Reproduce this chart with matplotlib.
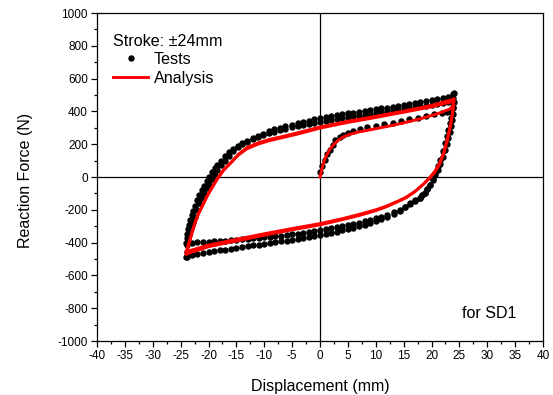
import matplotlib

matplotlib.use("Agg")
import matplotlib.pyplot as plt
from matplotlib.ticker import MultipleLocator
from matplotlib.lines import Line2D

plt.rcParams["font.family"] = ["Liberation Sans", "DejaVu Sans"]
plt.rcParams["axes.unicode_minus"] = False

# test data: initial loading curve
test_init_x = [0.0, 0.4, 0.9, 1.3, 1.8, 2.3, 2.7, 3.5, 4.2, 5.0, 6.0, 7.2, 8.5, 10.0,
               11.5, 13.0, 14.5, 16.0, 17.5, 19.0, 20.5, 21.8, 22.8, 23.5, 23.8]
test_init_y = [30, 70, 105, 140, 165, 195, 225, 245, 258, 268, 280, 293, 303, 313,
               322, 332, 342, 352, 362, 372, 382, 392, 398, 410, 428]

# test data: loading branches (-24 -> +24)
test_up_x = [-24.0, -23.9, -23.8, -23.7, -23.5, -23.3, -23.0, -22.8, -22.5, -22.1, -21.7,
             -21.2, -20.8, -20.3, -19.9, -19.4, -18.9, -18.5, -17.8, -17.0, -16.3, -15.6,
             -14.8, -14.0, -13.1, -12.1, -11.2, -10.2, -9.2, -8.2, -7.2, -6.2, -5.1, -4.0,
             -3.0, -2.0, -1.0, 0.0, 1.0, 2.0, 3.0, 4.0, 5.0, 6.0, 7.0, 8.0, 9.0, 10.0, 11.0,
             12.0, 13.0, 14.0, 15.0, 16.0, 17.0, 18.0, 19.0, 20.0, 21.0, 22.0, 23.0, 23.8]
test_up1_y = [-400, -372, -345, -318, -290, -262, -232, -205, -178, -140, -108,
              -80, -52, -25, 2, 28, 52, 74, 100, 128, 150, 170,
              188, 205, 220, 235, 247, 258, 268, 277, 285, 293, 302, 310,
              316, 323, 330, 336, 342, 348, 354, 360, 365, 370, 375, 380, 386, 391, 396,
              401, 406, 411, 416, 421, 426, 431, 436, 441, 446, 450, 455, 458]
test_up2_y = [-485, -460, -415, -370, -345, -320, -295, -275, -245, -200, -160,
              -125, -95, -65, -40, -15, 15, 40, 72, 100, 130, 160,
              185, 200, 215, 232, 250, 265, 278, 290, 300, 310, 320, 330,
              337, 344, 351, 358, 364, 370, 376, 382, 388, 393, 398, 403, 408, 413, 418,
              423, 428, 433, 438, 444, 450, 456, 462, 468, 474, 481, 490, 508]

# test data: unloading branches (+24 -> -24)
test_down_x = [24.0, 23.9, 23.8, 23.7, 23.5, 23.3, 23.0, 22.7, 22.4, 22.0, 21.5, 21.1,
               20.6, 20.2, 19.7, 19.2, 18.8, 18.3, 17.9, 17.0, 16.1, 15.2, 14.3, 13.2,
               12.0, 11.0, 10.0, 9.0, 8.0, 7.0, 6.0, 5.0, 4.0, 3.0, 2.0, 1.0, 0.0,
               -1.0, -2.0, -3.0, -4.0, -5.0, -6.0, -7.0, -8.0, -9.0, -10.0, -11.0, -12.0,
               -13.0, -14.0, -15.0, -16.0, -17.0, -18.0, -19.0, -20.0, -21.0, -22.0, -23.0, -23.9]
test_down1_y = [455, 420, 385, 350, 310, 275, 240, 200, 165, 125, 80, 45,
                10, -20, -50, -75, -95, -112, -125, -145, -165, -185, -200, -215,
                -230, -242, -252, -262, -270, -278, -286, -293, -300, -306, -312, -318, -324,
                -330, -335, -340, -345, -349, -353, -357, -360, -364, -367, -370, -373,
                -376, -379, -382, -385, -388, -390, -392, -394, -396, -398, -400, -402]
test_down2_y = [510, 480, 450, 390, 360, 330, 287, 250, 207, 160, 104, 65,
                24, -10, -50, -75, -95, -110, -125, -143, -160, -182, -205, -225,
                -245, -258, -270, -280, -290, -300, -308, -316, -325, -333, -341, -348, -356,
                -362, -368, -373, -378, -383, -388, -393, -398, -403, -408, -412, -417,
                -422, -427, -432, -437, -442, -447, -452, -457, -462, -467, -474, -485]

# analysis curves
ana_init_x = [0.0, 0.3, 0.7, 1.2, 1.8, 2.5, 3.3, 4.2, 5.5, 7.0, 9.0, 12.0, 15.0, 18.0,
              21.0, 23.3, 24.0]
ana_init_y = [0, 45, 95, 135, 170, 200, 225, 245, 262, 275, 288, 308, 330, 355,
              385, 415, 440]

ana_up_x = [-24.0, -23.6, -23.1, -22.5, -21.8, -21.0, -20.3, -19.4, -18.5, -17.3, -16.1,
            -14.6, -13.1, -11.0, -9.0, -7.0, -4.0, 0.0, 5.0, 10.0, 15.0, 20.0, 24.0]
ana_up1_y = [-455, -410, -352, -285, -222, -168, -120, -66, -16, 40, 82,
             135, 172, 202, 222, 238, 262, 298, 333, 363, 395, 428, 462]
ana_up2_y = [-470, -420, -360, -290, -225, -170, -120, -65, -15, 45, 85,
             140, 180, 210, 230, 245, 270, 305, 340, 370, 402, 437, 475]

ana_down_x = [24.0, 23.8, 23.4, 22.9, 22.2, 21.4, 20.5, 19.5, 18.5, 17.0, 15.5, 14.3,
              12.0, 10.0, 7.0, 4.0, 0.0, -5.0, -10.0, -15.0, -20.0, -24.0]
ana_down1_y = [462, 390, 312, 232, 145, 75, 25, -12, -45, -88, -122, -142,
               -176, -200, -228, -254, -284, -314, -346, -380, -415, -455]
ana_down2_y = [475, 400, 320, 240, 150, 80, 30, -10, -45, -90, -125, -145,
               -180, -205, -235, -260, -292, -322, -355, -390, -425, -470]

fig = plt.figure(figsize=(5.53, 3.95), dpi=100)
ax = fig.add_axes([0.1754, 0.1367, 0.8066, 0.8303])

dot = dict(ls="none", marker="o", ms=3.6, color="black", zorder=2)
ax.plot(test_init_x, test_init_y, **dot)
ax.plot(test_down_x, test_down1_y, **dot)
ax.plot(test_up_x, test_up1_y, **dot)
ax.plot(test_down_x, test_down2_y, **dot)
ax.plot(test_up_x, test_up2_y, **dot)

red = dict(color="#ff0000", lw=2.1, zorder=3)
ax.plot(ana_init_x, ana_init_y, **red)
ax.plot(ana_down_x, ana_down1_y, **red)
ax.plot(ana_up_x, ana_up1_y, **red)
ax.plot(ana_down_x, ana_down2_y, **red)
ax.plot(ana_up_x, ana_up2_y, **red)

ax.axhline(0, color="black", lw=0.9, zorder=1)
ax.axvline(0, color="black", lw=0.9, zorder=1)

ax.set_xlim(-40, 40)
ax.set_ylim(-1000, 1000)
ax.xaxis.set_major_locator(MultipleLocator(5))
ax.xaxis.set_minor_locator(MultipleLocator(2.5))
ax.yaxis.set_major_locator(MultipleLocator(200))
ax.yaxis.set_minor_locator(MultipleLocator(100))
ax.tick_params(which="both", direction="out", top=False, right=False, labelsize=8.5, width=0.9)
ax.tick_params(which="major", length=4.5, pad=2)
ax.tick_params(which="minor", length=2.5)
for s in ax.spines.values():
    s.set_linewidth(0.9)

ax.set_xlabel("Displacement (mm)", fontsize=11.5, labelpad=12)
ax.set_ylabel("Reaction Force (N)", fontsize=11.5, labelpad=18)
ax.yaxis.label.set_y(0.49)

handles = [Line2D([], [], ls="none", marker="o", ms=3.6, color="black"),
           Line2D([], [], color="#ff0000", lw=2.1)]
leg = ax.legend(handles, ["Tests", "Analysis"], title="Stroke: \u00b124mm", loc="upper left",
                frameon=False, fontsize=11.6, title_fontsize=11.6, handlelength=2.15,
                handletextpad=0.35, labelspacing=0.25, borderaxespad=0.0,
                alignment="left", bbox_to_anchor=(0.022, 0.955))
leg._legend_box.sep = 2

ax.text(25.4, -835, "for SD1", fontsize=11.5, va="center", ha="left")

fig.savefig("out.png", dpi=100)
